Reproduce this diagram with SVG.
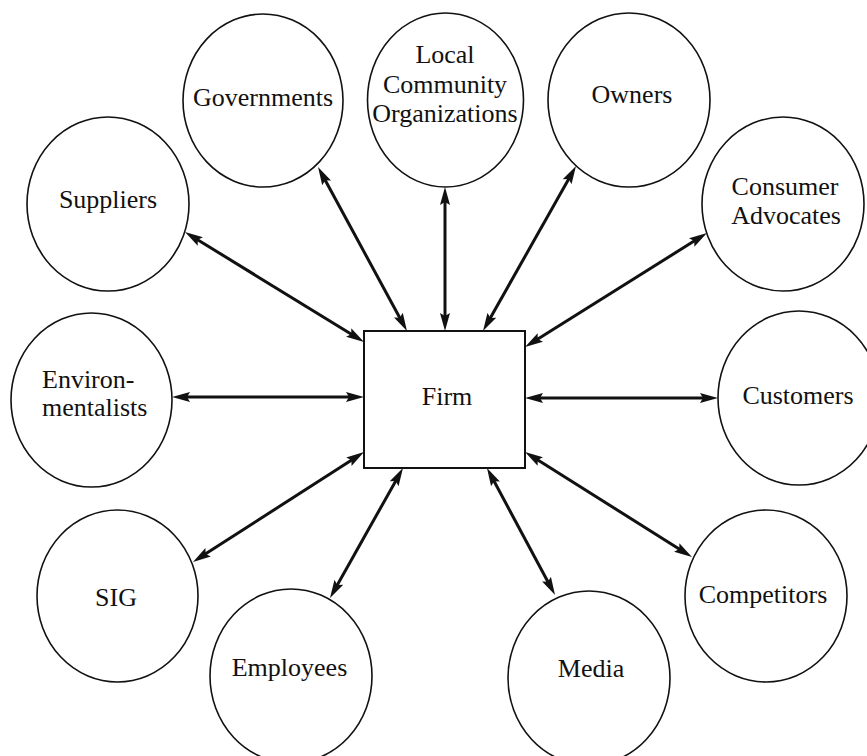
<svg xmlns="http://www.w3.org/2000/svg" width="867" height="756" viewBox="0 0 867 756">
<style>
.node ellipse{fill:#fff;stroke:#111;stroke-width:1.6}
.node rect{fill:#fff;stroke:#111;stroke-width:2}
text{font-family:"Liberation Serif","Times New Roman",serif;font-size:26px;fill:#111;text-anchor:middle}
.conn line{stroke:#111;stroke-width:3;marker-start:url(#ah);marker-end:url(#ah)}
</style>
<defs>
<marker id="ah" viewBox="0 0 18 11" refX="8" refY="5.5" markerWidth="18" markerHeight="11" markerUnits="userSpaceOnUse" orient="auto-start-reverse">
<path d="M0,0.5 L18,5.5 L0,10.5 L3,5.5 z" fill="#111"/>
</marker>
</defs>
<rect width="867" height="756" fill="#fff"/>
<g class="conn">
<line x1="193.5" y1="237.2" x2="355.5" y2="336.8"/>
<line x1="322.8" y1="175.8" x2="402.2" y2="322.2"/>
<line x1="445" y1="197" x2="445" y2="321"/>
<line x1="571.1" y1="174.7" x2="487.9" y2="322.3"/>
<line x1="698.5" y1="238.3" x2="533.5" y2="341.7"/>
<line x1="182" y1="397" x2="354" y2="397"/>
<line x1="708" y1="398" x2="535" y2="398"/>
<line x1="201.4" y1="556.6" x2="355.6" y2="457.4"/>
<line x1="334.9" y1="589.3" x2="398.1" y2="476.7"/>
<line x1="550.3" y1="586.2" x2="491.7" y2="476.8"/>
<line x1="683.5" y1="551.7" x2="533.5" y2="457.3"/>
</g>
<g id="firm" class="node"><rect x="364" y="331" width="161" height="137"/><text x="447" y="405">Firm</text></g>
<g id="governments" class="node"><ellipse cx="263" cy="100.5" rx="80" ry="86.5"/><text x="263" y="106">Governments</text></g>
<g id="local-community" class="node"><ellipse cx="445.5" cy="100" rx="78" ry="87"/><text x="445" y="63">Local</text><text x="445" y="93">Community</text><text x="445" y="122">Organizations</text></g>
<g id="owners" class="node"><ellipse cx="629" cy="100" rx="81" ry="87"/><text x="632" y="103">Owners</text></g>
<g id="suppliers" class="node"><ellipse cx="108" cy="204" rx="81" ry="87"/><text x="108" y="208">Suppliers</text></g>
<g id="consumer-advocates" class="node"><ellipse cx="783" cy="204" rx="81" ry="87"/><text x="785" y="195">Consumer</text><text x="786" y="224">Advocates</text></g>
<g id="environmentalists" class="node"><ellipse cx="91.5" cy="400" rx="80.5" ry="87"/><text x="42" y="388" style="text-anchor:start">Environ-</text><text x="42" y="416" style="text-anchor:start">mentalists</text></g>
<g id="customers" class="node"><ellipse cx="799" cy="398" rx="81" ry="87"/><text x="798" y="404">Customers</text></g>
<g id="sig" class="node"><ellipse cx="117.5" cy="596" rx="80.5" ry="86"/><text x="116" y="606">SIG</text></g>
<g id="employees" class="node"><ellipse cx="291" cy="676" rx="81" ry="87"/><text x="289.5" y="676">Employees</text></g>
<g id="media" class="node"><ellipse cx="589" cy="678" rx="81" ry="87"/><text x="591" y="677">Media</text></g>
<g id="competitors" class="node"><ellipse cx="766" cy="596" rx="81" ry="86"/><text x="763" y="603">Competitors</text></g>
</svg>
